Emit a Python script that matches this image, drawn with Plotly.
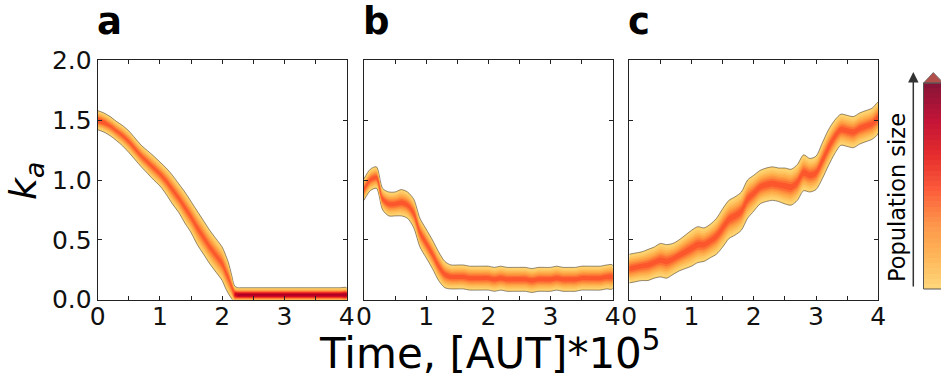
import numpy as np
import plotly.graph_objects as go
from plotly.colors import make_colorscale, sample_colorscale

W, H = 941, 381

# ---------------- data ----------------
# time axis (units of [AUT]*10^5)
t_a = [0.0, 0.1, 0.2, 0.3, 0.4, 0.5, 0.6, 0.7, 0.8, 0.9, 1.0, 1.1, 1.2, 1.3, 1.4, 1.5,
       1.6, 1.7, 1.8, 1.9, 2.0, 2.05, 2.1, 2.15, 2.2, 2.25, 2.3, 2.4, 2.5, 2.6, 2.7, 2.8,
       2.9, 3.0, 3.1, 3.2, 3.3, 3.4, 3.5, 3.6, 3.7, 3.8, 3.9, 4.0]
ka_a = [1.50, 1.48, 1.45, 1.41, 1.37, 1.32, 1.26, 1.20, 1.15, 1.10, 1.05, 0.99, 0.92, 0.85,
        0.77, 0.69, 0.60, 0.52, 0.44, 0.37, 0.30, 0.24, 0.18, 0.11, 0.045, 0.04, 0.04, 0.04,
        0.04, 0.04, 0.04, 0.04, 0.04, 0.04, 0.04, 0.04, 0.04, 0.04, 0.04, 0.04, 0.04, 0.04,
        0.04, 0.04]
spread_a = [0.08, 0.08, 0.08, 0.08, 0.085, 0.09, 0.09, 0.09, 0.095, 0.10, 0.10, 0.11, 0.12,
            0.12, 0.13, 0.13, 0.14, 0.14, 0.14, 0.14, 0.14, 0.14, 0.13, 0.10, 0.07, 0.06,
            0.06, 0.06, 0.06, 0.06, 0.06, 0.06, 0.06, 0.06, 0.06, 0.06, 0.06, 0.06, 0.06,
            0.06, 0.06, 0.06, 0.06, 0.06]
pop_a = [0.60, 0.55, 0.50, 0.50, 0.50, 0.50, 0.50, 0.50, 0.50, 0.50, 0.50, 0.50, 0.50, 0.50,
         0.50, 0.50, 0.50, 0.50, 0.50, 0.50, 0.50, 0.50, 0.50, 0.50, 0.80, 0.92, 0.92, 0.92,
         0.92, 0.92, 0.92, 0.92, 0.92, 0.92, 0.92, 0.92, 0.92, 0.92, 0.92, 0.92, 0.92, 0.92,
         0.92, 0.92]

t_bc = [round(0.1 * i, 1) for i in range(41)]
ka_b = [0.92, 1.00, 1.02, 0.84, 0.80, 0.80, 0.81, 0.79, 0.72, 0.56, 0.47, 0.38, 0.28, 0.21,
        0.19, 0.19, 0.19, 0.18, 0.18, 0.18, 0.18, 0.17, 0.18, 0.17, 0.17, 0.17, 0.17, 0.16,
        0.17, 0.17, 0.17, 0.18, 0.17, 0.17, 0.17, 0.18, 0.18, 0.18, 0.18, 0.19, 0.19]
spread_b = [0.09, 0.09, 0.09, 0.09, 0.10, 0.10, 0.11, 0.11, 0.12, 0.12, 0.12, 0.12, 0.12,
            0.11, 0.10, 0.10, 0.10, 0.10, 0.10, 0.10, 0.10, 0.10, 0.10, 0.10, 0.10, 0.10,
            0.10, 0.10, 0.10, 0.10, 0.10, 0.10, 0.10, 0.10, 0.10, 0.10, 0.10, 0.10, 0.10,
            0.10, 0.10]
pop_b = [0.52] * 41

ka_c = [0.26, 0.27, 0.28, 0.29, 0.31, 0.33, 0.32, 0.34, 0.37, 0.40, 0.43, 0.46, 0.46, 0.49,
        0.53, 0.60, 0.67, 0.70, 0.74, 0.84, 0.89, 0.94, 0.96, 0.97, 0.96, 0.95, 0.94, 0.98,
        1.06, 1.04, 1.06, 1.16, 1.27, 1.36, 1.42, 1.41, 1.40, 1.43, 1.45, 1.47, 1.52]
spread_c = [0.12, 0.12, 0.12, 0.13, 0.13, 0.14, 0.14, 0.13, 0.13, 0.14, 0.15, 0.15, 0.14,
            0.14, 0.15, 0.16, 0.16, 0.16, 0.16, 0.16, 0.15, 0.14, 0.14, 0.14, 0.14, 0.15,
            0.15, 0.15, 0.15, 0.14, 0.14, 0.15, 0.15, 0.14, 0.13, 0.13, 0.13, 0.13, 0.13,
            0.13, 0.13]
pop_c = [0.52] * 41

x_ticks = [0, 0.5, 1, 1.5, 2, 2.5, 3, 3.5, 4]
x_ticktext = ["0", "", "1", "", "2", "", "3", "", "4"]
y_ticks = [0, 0.5, 1.0, 1.5, 2.0]
y_ticktext = ["0.0", "0.5", "1.0", "1.5", "2.0"]
panel_labels = ["a", "b", "c"]

# ---------------- styling ----------------
FONT = "DejaVu Sans"
EDGE = 0.03
levels = [0.03, 0.08, 0.14, 0.20, 0.27, 0.34, 0.41, 0.48, 0.55, 0.63, 0.71, 0.79, 0.87]
ylorrd = make_colorscale(["#ffffcc", "#ffeda0", "#fed976", "#feb24c", "#fd8d3c",
                          "#fc4e2a", "#e31a1c", "#bd0026", "#800026"])


def level_color(z):
    return sample_colorscale(ylorrd, [0.25 + 0.75 * z])[0]


def runs(mask):
    out, start = [], None
    for k, m in enumerate(list(mask) + [False]):
        if m and start is None:
            start = k
        elif not m and start is not None:
            out.append((start, k))
            start = None
    return out


fig = go.Figure()
panels = [(t_a, ka_a, spread_a, pop_a), (t_bc, ka_b, spread_b, pop_b),
          (t_bc, ka_c, spread_c, pop_c)]
x_doms = [(97.7, 346.7), (364.0, 612.7), (629.3, 878.3)]
y_dom = (1 - 299.7 / H, 1 - 60.3 / H)

for i, (ts, c, w, p) in enumerate(panels):
    n = "" if i == 0 else str(i + 1)
    ts_, c_, w_, p_ = map(np.array, (ts, c, w, p))
    sig = w_ / np.sqrt(2 * np.log(p_ / EDGE))
    for j, z in enumerate(levels):
        for a0, a1 in runs(p_ > z):
            if a1 - a0 < 2:
                continue
            sl = slice(a0, a1)
            half = sig[sl] * np.sqrt(2 * np.log(p_[sl] / z))
            tk, ck = ts_[sl], c_[sl]
            xs = np.concatenate([tk, tk[::-1]])
            ys = np.concatenate([ck + half, (ck - half)[::-1]])
            edge = dict(color="rgba(60,50,40,0.6)", width=0.9) if j == 0 else dict(width=0)
            fig.add_trace(go.Scatter(x=xs, y=ys, fill="toself", mode="lines",
                                     line=dict(shape="spline", smoothing=0.8, **edge),
                                     fillcolor=level_color(z), hoverinfo="skip",
                                     xaxis="x" + n, yaxis="y" + n))
    x0, x1 = x_doms[i]
    common = dict(ticks="inside", ticklen=4, tickcolor="#222", mirror="allticks",
                  showline=True, linecolor="#222", linewidth=1, showgrid=False,
                  zeroline=False, tickfont=dict(family=FONT, size=25, color="#111"))
    fig.layout["xaxis" + n] = dict(domain=[x0 / W, x1 / W], anchor="y" + n, range=[0, 4],
                                   tickvals=x_ticks, ticktext=x_ticktext,
                                   ticklabelstandoff=-6, **common)
    fig.layout["yaxis" + n] = dict(domain=list(y_dom), anchor="x" + n, range=[0, 2],
                                   tickvals=y_ticks, ticktext=y_ticktext,
                                   showticklabels=(i == 0), ticklabelstandoff=0, **common)
    fig.add_annotation(text="<b>" + panel_labels[i] + "</b>", xref="paper", yref="paper",
                       x=(x0 - 3) / W, y=1 - 22 / H, xanchor="left", yanchor="middle",
                       showarrow=False, font=dict(family=FONT, size=37, color="#000"))

# colour bar drawn as its own small heatmap
bar_levels = np.linspace(0.03, 1.0, 40)
fig.add_trace(go.Heatmap(x=[0], y=list(range(40)), z=[[v] for v in range(40)],
                         zmin=0, zmax=39, showscale=False, hoverinfo="skip",
                         colorscale=[[k / 39, level_color(v)] for k, v in enumerate(bar_levels)],
                         xaxis="x4", yaxis="y4", opacity=0.92))
bx0, by0, by1 = 923.5, 83.0, 289.0
fig.layout["xaxis4"] = dict(domain=[bx0 / W, 1.0], anchor="y4", visible=False,
                            range=[-0.5, 0.5], fixedrange=True)
fig.layout["yaxis4"] = dict(domain=[1 - by1 / H, 1 - by0 / H], anchor="x4", visible=False,
                            range=[-0.5, 39.5], fixedrange=True)
fig.add_shape(type="path", xref="paper", yref="paper",
              path=f"M {bx0 / W} {1 - by0 / H} L {933.3 / W} {1 - 72.5 / H} L {943.5 / W} {1 - by0 / H} Z",
              fillcolor="rgba(170,60,55,0.9)", line=dict(color="#666", width=0.8))
fig.add_shape(type="rect", xref="paper", yref="paper", x0=bx0 / W, x1=1.02,
              y0=1 - by1 / H, y1=1 - by0 / H, line=dict(color="#555", width=1))

# arrow and label
fig.add_annotation(x=913.3 / W, y=1 - 72 / H, xref="paper", yref="paper", ax=0, ay=216,
                   axref="pixel", ayref="pixel", text="", showarrow=True, arrowhead=2,
                   arrowsize=1.4, arrowwidth=1.5, arrowcolor="#333", standoff=0)
fig.add_annotation(text="Population size", xref="paper", yref="paper", x=897 / W,
                   y=1 - 198 / H, xanchor="center", yanchor="middle", textangle=-90,
                   showarrow=False, font=dict(family=FONT, size=22.5, color="#000"))

# axis titles
fig.add_annotation(text="Time, [AUT]*10<sup>5</sup>", xref="paper", yref="paper",
                   x=490 / W, y=1 - 380 / H, xanchor="center", yanchor="bottom",
                   showarrow=False, font=dict(family=FONT, size=42, color="#000"))
fig.add_annotation(text="<i>k</i><sub><i>a</i></sub>", xref="paper", yref="paper",
                   x=25 / W, y=1 - 181 / H, xanchor="center", yanchor="middle",
                   textangle=-90, showarrow=False,
                   font=dict(family=FONT, size=38, color="#000"))

fig.update_layout(width=W, height=H, margin=dict(l=0, r=0, t=0, b=0, autoexpand=False),
                  paper_bgcolor="white", plot_bgcolor="white", showlegend=False)

fig.write_html("out.html")
